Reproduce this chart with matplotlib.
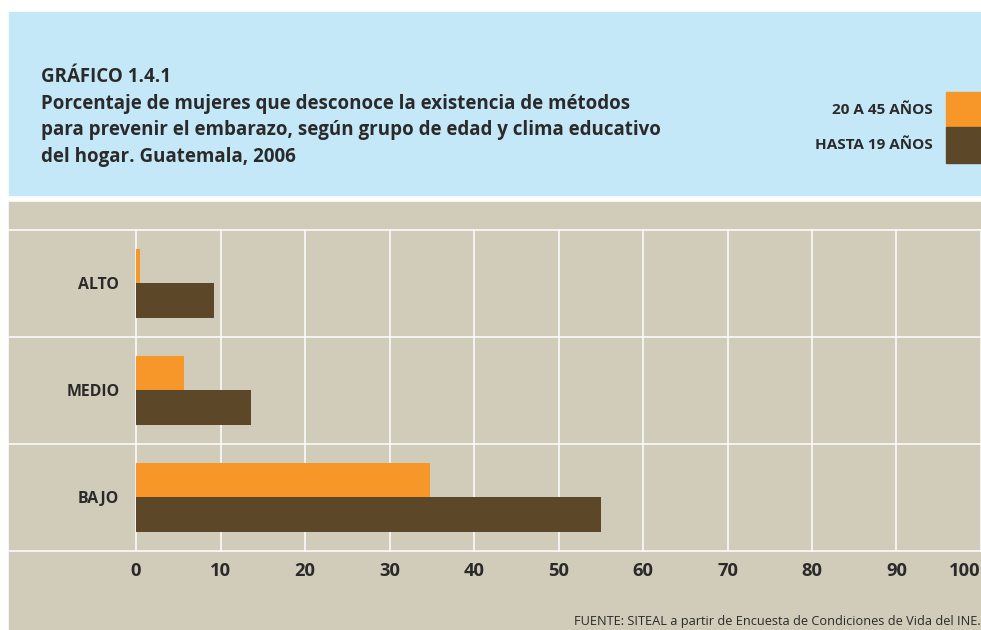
import matplotlib.pyplot as plt
from matplotlib.patches import Rectangle

# data
categorias = ["ALTO", "MEDIO", "BAJO"]
serie_20_45 = [0.5, 5.7, 34.8]
serie_hasta_19 = [9.2, 13.6, 55.0]
nombres_series = ["20 A 45 AÑOS", "HASTA 19 AÑOS"]
xticks = [0, 10, 20, 30, 40, 50, 60, 70, 80, 90, 100]

titulo = ["GRÁFICO 1.4.1",
          "Porcentaje de mujeres que desconoce la existencia de métodos",
          "para prevenir el embarazo, según grupo de edad y clima educativo",
          "del hogar. Guatemala, 2006"]
fuente = "FUENTE: SITEAL a partir de Encuesta de Condiciones de Vida del INE."

AZUL = "#C5E8F8"
BEIGE = "#D1CBBA"
NARANJA = "#F7972A"
MARRON = "#5D4729"
TEXTO = "#2B2A2A"

plt.rcParams['font.family'] = ['Open Sans', 'DejaVu Sans']

W, H = 981, 630
fig = plt.figure(figsize=(W / 100, H / 100), dpi=100)

def fx(x):
    return x / W

def fy(y):
    return 1 - y / H

# background boxes
fig.patches.append(Rectangle((fx(9), fy(195)), fx(972), 183 / H, transform=fig.transFigure,
                             color=AZUL, zorder=-10))
fig.patches.append(Rectangle((fx(9), 0), fx(972), fy(202), transform=fig.transFigure,
                             color=BEIGE, zorder=-10))

# title
for i, linea in enumerate(titulo):
    fig.text(fx(41), fy(82 + i * 26.6), linea, fontsize=13.5, fontweight="bold",
             color=TEXTO, va="baseline", ha="left")

# legend
colores = [NARANJA, MARRON]
for i, (nombre, c) in enumerate(zip(nombres_series, colores)):
    y0 = 92.3 + i * 35.2
    fig.patches.append(Rectangle((fx(946), fy(y0 + 35.2)), fx(35), 35.2 / H,
                                 transform=fig.transFigure, color=c, zorder=1))
    fig.text(fx(933), fy(y0 + 17.6), nombre, fontsize=11.0, fontweight="bold",
             color=TEXTO, va="center", ha="right")

# axes
ax = fig.add_axes([fx(136), fy(550.5), 1 - fx(136), (550.5 - 230) / H])
ax.set_facecolor("none")
ypos = [2, 1, 0]
h = 0.323
ax.barh([y + h / 2 for y in ypos], serie_20_45, height=h, color=NARANJA, zorder=3)
ax.barh([y - h / 2 for y in ypos], serie_hasta_19, height=h, color=MARRON, zorder=3)
ax.set_xlim(0, 100)
ax.set_ylim(-0.5, 2.5)

for x in xticks:
    ax.axvline(x, color="white", lw=1.1, zorder=1, clip_on=False)
left = -(136 - 9) / (981 - 136)
for y in [-0.5, 0.5, 1.5, 2.5]:
    ax.plot([left, 1], [y, y], transform=ax.get_yaxis_transform(), color="white",
            lw=1.1, clip_on=False, zorder=1)

for s in ax.spines.values():
    s.set_visible(False)
ax.set_xticks(xticks)
ax.set_xticklabels([str(x) for x in xticks])
ax.set_yticks(ypos)
ax.set_yticklabels(categorias)
ax.tick_params(axis="x", length=0, pad=8.5, labelsize=13.2, labelcolor=TEXTO)
ax.tick_params(axis="y", length=0, pad=12, labelsize=11.4, labelcolor=TEXTO)
for t in ax.get_xticklabels() + ax.get_yticklabels():
    t.set_fontweight("bold")
ax.get_xticklabels()[-1].set_horizontalalignment("right")

fig.text(1.0, fy(622), fuente, fontsize=9.2, color=TEXTO, va="center", ha="right")

fig.savefig("out.png", dpi=100)
